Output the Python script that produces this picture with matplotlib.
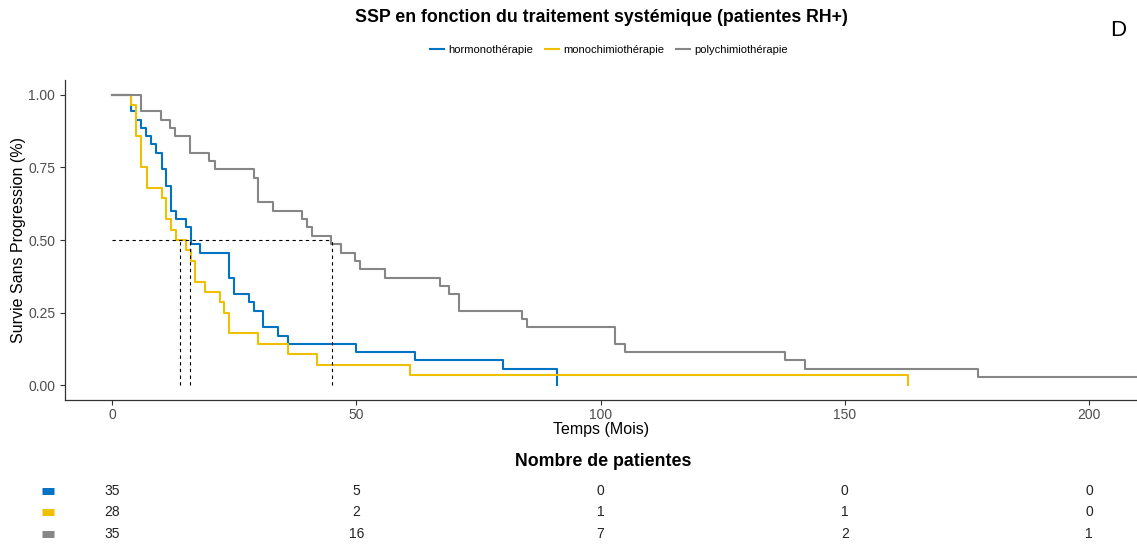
import matplotlib.pyplot as plt
from matplotlib.lines import Line2D
from matplotlib.transforms import blended_transform_factory

plt.rcParams['font.family'] = ['Liberation Sans', 'DejaVu Sans']

groups = ['hormonothérapie', 'monochimiothérapie', 'polychimiothérapie']
colors = ['#0073C2', '#EFC000', '#868686']

# courbes de Kaplan-Meier (temps en mois, survie)
t_horm = [0, 4, 4.9, 6, 7, 8, 9, 10.2, 11.1, 12.1, 13.2, 15.1, 16.1, 18, 24, 25, 28, 29, 31, 34, 36, 50, 62, 80, 91]
s_horm = [1.0, 0.943, 0.914, 0.886, 0.857, 0.829, 0.800, 0.743, 0.686, 0.600, 0.571, 0.543, 0.486, 0.457,
          0.371, 0.314, 0.286, 0.257, 0.200, 0.171, 0.143, 0.114, 0.086, 0.057, 0.0]

t_mono = [0, 4, 5, 6, 7.1, 10.2, 11, 12, 13.1, 15.1, 16.1, 17.1, 19.1, 22.1, 23, 24, 30, 36, 42, 61, 163]
s_mono = [1.0, 0.964, 0.857, 0.750, 0.679, 0.643, 0.571, 0.536, 0.500, 0.464, 0.429, 0.357, 0.321,
          0.286, 0.250, 0.179, 0.143, 0.107, 0.071, 0.036, 0.0]

t_poly = [0, 6, 10, 11.8, 12.9, 16, 19.9, 21, 29, 29.9, 32.9, 38.9, 39.9, 41, 44.9, 46.9, 49.8, 50.8,
          55.9, 67.1, 68.9, 71, 84, 85, 103, 105, 137.8, 141.8, 177.3, 210]
s_poly = [1.0, 0.943, 0.914, 0.886, 0.857, 0.800, 0.771, 0.743, 0.714, 0.629, 0.600, 0.571, 0.543, 0.514,
          0.486, 0.457, 0.429, 0.400, 0.371, 0.343, 0.314, 0.257, 0.229, 0.200, 0.143, 0.114, 0.086,
          0.057, 0.029, 0.029]

medians = [14, 16, 45]

risk_times = [0, 50, 100, 150, 200]
risk_horm = [35, 5, 0, 0, 0]
risk_mono = [28, 2, 1, 1, 0]
risk_poly = [35, 16, 7, 2, 1]

W, H = 1137, 544
fig = plt.figure(figsize=(W / 100, H / 100), dpi=100)
ax = fig.add_axes([65 / W, 1 - 400 / H, 1 - 65 / W, 320 / H])

curves = [(t_horm, s_horm), (t_mono, s_mono), (t_poly, s_poly)]
for (t, s), c in zip(curves, colors):
    ax.step(t, s, where='post', color=c, lw=1.5)

# lignes des médianes
ax.plot([0, max(medians)], [0.5, 0.5], color='black', ls=(0, (3, 3)), lw=0.8)
for m in medians:
    ax.plot([m, m], [0, 0.5], color='black', ls=(0, (3, 3)), lw=0.8)

ax.set_xlim(-9.6, 209.8)
ax.set_ylim(-0.05, 1.05)
ax.set_xticks([0, 50, 100, 150, 200])
ax.set_yticks([0, 0.25, 0.5, 0.75, 1.0])
ax.set_yticklabels(['0.00', '0.25', '0.50', '0.75', '1.00'])
ax.tick_params(labelsize=10, labelcolor='#4d4d4d', color='#333333', length=3.5, width=0.8)
ax.tick_params(axis='x', pad=2.5)
for sp in ['top', 'right']:
    ax.spines[sp].set_visible(False)
for sp in ['left', 'bottom']:
    ax.spines[sp].set_color('#333333')
    ax.spines[sp].set_linewidth(0.9)

ax.set_xlabel('Temps (Mois)', fontsize=11.5)
ax.set_ylabel('Survie Sans Progression (%)', fontsize=11.5)
ax.xaxis.set_label_coords(0.5, -0.07)
ax.yaxis.set_label_coords(-0.036, 0.5)

fig.text(601 / W, 1 - 18 / H, 'SSP en fonction du traitement systémique (patientes RH+)',
         ha='center', va='center', fontsize=12.8, fontweight='bold')
fig.text(1118 / W, 1 - 30 / H, 'D', ha='center', va='center', fontsize=16)

handles = [Line2D([], [], color=c, lw=1.5) for c in colors]
fig.legend(handles, groups, loc='center', bbox_to_anchor=(609 / W, 1 - 50 / H), ncol=3,
           frameon=False, fontsize=8, handlelength=1.3, handletextpad=0.4, columnspacing=1.0)

# tableau des effectifs
fig.text(603 / W, 1 - 462 / H, 'Nombre de patientes', ha='center', va='center',
         fontsize=12.8, fontweight='bold')
ax2 = fig.add_axes([65 / W, 0, 1 - 65 / W, 64 / H])
ax2.set_xlim(ax.get_xlim())
ax2.set_ylim(2.465, -0.51)
ax2.axis('off')
tr = blended_transform_factory(ax2.transAxes, ax2.transData)
for i, (row, c) in enumerate(zip([risk_horm, risk_mono, risk_poly], colors)):
    ax2.plot([-0.0215, -0.0103], [i, i], color=c, lw=5, solid_capstyle='butt',
             transform=tr, clip_on=False)
    for t, n in zip(risk_times, row):
        ax2.text(t, i, str(n), ha='center', va='center', fontsize=10, color='#222222')

fig.savefig('out.png', dpi=100)
